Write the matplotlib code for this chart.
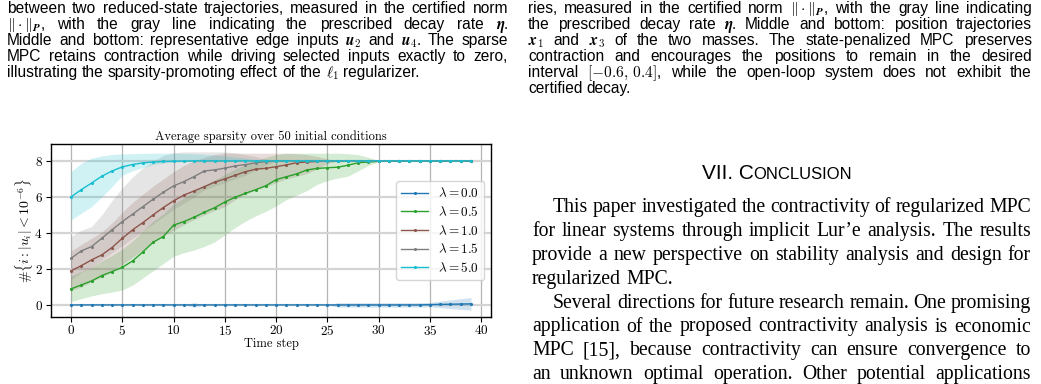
import matplotlib
matplotlib.use('Agg')
import matplotlib.pyplot as plt

plt.rcParams['mathtext.fontset'] = 'cm'
plt.rcParams['axes.formatter.use_mathtext'] = True

# time steps and the five regularization weights
steps = list(range(40))
labels = [r'$\lambda = 0.0$', r'$\lambda = 0.5$', r'$\lambda = 1.0$', r'$\lambda = 1.5$', r'$\lambda = 5.0$']
colors = ['#1f77b4', '#2ca02c', '#8c564b', '#7f7f7f', '#17becf']

# mean number of zero inputs and the shaded band (low / high) per step
lam00_mean = [0, 0, 0, 0, 0, 0, 0, 0, 0, 0, 0, 0, 0, 0, 0, 0, 0, 0, 0, 0,
              0, 0, 0, 0, 0, 0, 0, 0, 0, 0, 0, 0, 0, 0, 0, 0.02, 0.03, 0.04, 0.05, 0.06]
lam00_lo = [0, 0, 0, 0, 0, 0, 0, 0, 0, 0, 0, 0, -0.13, 0, 0, 0, 0, 0, 0, 0,
            0, 0, 0, 0, 0, 0, -0.12, -0.12, -0.12, -0.12, -0.12, -0.12, -0.12, -0.12, -0.12, -0.1, -0.15, -0.2, -0.25, -0.29]
lam00_hi = [0, 0, 0, 0, 0, 0, 0, 0, 0, 0, 0, 0, 0.13, 0, 0, 0, 0, 0, 0, 0,
            0, 0, 0, 0, 0, 0, 0.12, 0.12, 0.12, 0.12, 0.12, 0.12, 0.12, 0.12, 0.12, 0.14, 0.21, 0.28, 0.35, 0.41]

lam05_mean = [0.89, 1.11, 1.33, 1.63, 1.85, 2.09, 2.44, 2.94, 3.48, 3.80,
              4.43, 4.63, 4.87, 5.15, 5.40, 5.72, 5.98, 6.20, 6.40, 6.62,
              6.96, 7.12, 7.28, 7.50, 7.58, 7.62, 7.65, 7.76, 7.90, 7.94,
              7.98, 8, 8, 8, 8, 8, 8, 8, 8, 8]
lam05_lo = [0.19, 0.35, 0.50, 0.62, 0.72, 0.83, 1.10, 1.50, 1.90, 2.30,
            2.70, 2.90, 3.05, 3.25, 3.50, 3.90, 4.30, 4.65, 4.95, 5.20,
            5.50, 5.85, 6.10, 6.35, 6.70, 6.90, 7.05, 7.15, 7.45, 7.75,
            7.95, 8, 8, 8, 8, 8, 8, 8, 8, 8]
lam05_hi = [1.60, 1.85, 2.10, 2.45, 2.75, 3.10, 3.55, 4.10, 4.65, 5.05,
            5.60, 5.95, 6.30, 6.65, 6.95, 7.25, 7.55, 7.80, 8.00, 8.20,
            8.35, 8.42, 8.43, 8.43, 8.43, 8.43, 8.43, 8.40, 8.35, 8.20,
            8.02, 8, 8, 8, 8, 8, 8, 8, 8, 8]

lam10_mean = [1.89, 2.18, 2.50, 2.78, 3.19, 3.70, 4.17, 4.57, 5.00, 5.41,
              5.78, 6.10, 6.33, 6.57, 6.82, 7.00, 7.20, 7.40, 7.54, 7.59,
              7.68, 7.78, 7.90, 7.94, 7.97, 7.99, 8, 8, 8, 8,
              8, 8, 8, 8, 8, 8, 8, 8, 8, 8]
lam10_lo = [0.80, 1.00, 1.30, 1.55, 1.85, 2.25, 2.65, 3.05, 3.45, 3.85,
            4.15, 4.45, 4.75, 5.00, 5.25, 5.46, 5.85, 6.15, 6.40, 6.57,
            6.80, 7.00, 7.15, 7.30, 7.55, 7.85, 8, 8, 8, 8,
            8, 8, 8, 8, 8, 8, 8, 8, 8, 8]
lam10_hi = [3.00, 3.35, 3.70, 4.05, 4.55, 5.15, 5.70, 6.15, 6.60, 7.00,
            7.40, 7.75, 8.00, 8.20, 8.35, 8.43, 8.43, 8.43, 8.43, 8.43,
            8.43, 8.43, 8.40, 8.35, 8.25, 8.12, 8, 8, 8, 8,
            8, 8, 8, 8, 8, 8, 8, 8, 8, 8]

lam15_mean = [2.59, 3.00, 3.24, 3.70, 4.17, 4.63, 5.04, 5.46, 5.87, 6.26,
              6.61, 6.85, 7.13, 7.44, 7.50, 7.60, 7.72, 7.80, 7.90, 7.96,
              8, 8, 8, 8, 8, 8, 8, 8, 8, 8, 8, 8, 8, 8, 8, 8, 8, 8, 8, 8]
lam15_lo = [1.40, 1.80, 2.10, 2.50, 2.90, 3.30, 3.70, 4.10, 4.50, 4.90,
            5.30, 5.65, 6.00, 6.40, 6.60, 6.80, 7.00, 7.20, 7.50, 7.75,
            8, 8, 8, 8, 8, 8, 8, 8, 8, 8, 8, 8, 8, 8, 8, 8, 8, 8, 8, 8]
lam15_hi = [3.80, 4.15, 4.35, 5.00, 5.80, 6.50, 7.10, 7.60, 8.00, 8.30,
            8.45, 8.50, 8.50, 8.50, 8.50, 8.50, 8.45, 8.35, 8.25, 8.10,
            8, 8, 8, 8, 8, 8, 8, 8, 8, 8, 8, 8, 8, 8, 8, 8, 8, 8, 8, 8]

lam50_mean = [6.00, 6.40, 6.77, 7.15, 7.44, 7.67, 7.80, 7.89, 7.94, 7.97,
              7.98, 7.99, 8, 8, 8, 8, 8, 8, 8, 8,
              8, 8, 8, 8, 8, 8, 8, 8, 8, 8, 8, 8, 8, 8, 8, 8, 8, 8, 8, 8]
lam50_lo = [4.72, 5.10, 5.46, 6.00, 6.57, 7.20, 7.45, 7.62, 7.80, 7.88,
            7.93, 7.97, 8, 8, 8, 8, 8, 8, 8, 8,
            8, 8, 8, 8, 8, 8, 8, 8, 8, 8, 8, 8, 8, 8, 8, 8, 8, 8, 8, 8]
lam50_hi = [7.40, 7.87, 8.15, 8.28, 8.36, 8.39, 8.40, 8.42, 8.43, 8.43,
            8.43, 8.42, 8.40, 8.37, 8.33, 8.28, 8.22, 8.15, 8.08, 8.02,
            8, 8, 8, 8, 8, 8, 8, 8, 8, 8, 8, 8, 8, 8, 8, 8, 8, 8, 8, 8]

means = [lam00_mean, lam05_mean, lam10_mean, lam15_mean, lam50_mean]
lows = [lam00_lo, lam05_lo, lam10_lo, lam15_lo, lam50_lo]
highs = [lam00_hi, lam05_hi, lam10_hi, lam15_hi, lam50_hi]

W, H = 1041, 384
fig = plt.figure(figsize=(W / 100, H / 100), dpi=100)

# chart
ax = fig.add_axes([51 / W, 1 - 317 / H, 440 / W, 173 / H])
for m, lo, hi, c, lab in zip(means, lows, highs, colors, labels):
    ax.fill_between(steps, lo, hi, color=c, alpha=0.2, linewidth=0)
    ax.plot(steps, m, color=c, linewidth=1.0, marker='.', markersize=2.5, label=lab)

ax.set_xlim(-1.95, 40.95)
ax.set_ylim(-0.67, 8.94)
ax.set_xticks([0, 5, 10, 15, 20, 25, 30, 35, 40])
ax.set_yticks([0, 2, 4, 6, 8])
ax.grid(True, axis='y', color='#d4d4d4', linewidth=1.6)
ax.grid(True, axis='x', color='#b4b4b4', linewidth=0.9)
ax.set_axisbelow(True)
for s in ax.spines.values():
    s.set_linewidth(1.0)
ax.tick_params(labelsize=9.5, pad=2.5)
ax.tick_params(axis='x', pad=1.5)
for t in ax.get_xticklabels() + ax.get_yticklabels():
    t.set_family('cmr10')
ax.set_title('Average sparsity over 50 initial conditions', fontsize=9, family='cmr10', pad=3)
ax.set_xlabel('Time step', fontsize=9, family='cmr10')
ax.xaxis.set_label_coords(0.5, -0.118)
ax.set_ylabel(r'$\#\{i : |u_i| < 10^{-6}\}$', fontsize=10)
ax.yaxis.set_label_coords(-0.037, 0.5)
leg = ax.legend(loc='center right', fontsize=9.5, framealpha=0.8, edgecolor='0.8',
                labelspacing=0.35, handlelength=2.0)

# surrounding page text
rend = fig.canvas.get_renderer()


def put_line(text, x0, x1, y, size, family, justify=True):
    words = text.split(' ')
    objs = [fig.text(0, 0, w, fontsize=size, family=family, va='baseline', ha='left') for w in words]
    ws = [o.get_window_extent(renderer=rend).width for o in objs]
    if justify and len(words) > 1:
        gap = (x1 - x0 - sum(ws)) / (len(words) - 1)
    else:
        gap = size * 100 / 72 * 0.28
    x = x0
    for o, w in zip(objs, ws):
        o.set_position((x / W, 1 - y / H))
        x += w + gap


cap_left = [
    'between two reduced-state trajectories, measured in the certified norm',
    r'$\|\cdot\|_{\boldsymbol{P}}$, with the gray line indicating the prescribed decay rate $\boldsymbol{\eta}$.',
    r'Middle and bottom: representative edge inputs $\boldsymbol{u}_\mathbf{2}$ and $\boldsymbol{u}_\mathbf{4}$. The sparse',
    'MPC retains contraction while driving selected inputs exactly to zero,',
    r'illustrating the sparsity-promoting effect of the $\boldsymbol{\ell}_\mathbf{1}$ regularizer.',
]
cap_right = [
    r'ries, measured in the certified norm $\|\cdot\|_{\boldsymbol{P}}$, with the gray line indicating',
    r'the prescribed decay rate $\boldsymbol{\eta}$. Middle and bottom: position trajectories',
    r'$\boldsymbol{x}_\mathbf{1}$ and $\boldsymbol{x}_\mathbf{3}$ of the two masses. The state-penalized MPC preserves',
    'contraction and encourages the positions to remain in the desired',
    r'interval $[\mathbf{-0.6,\,0.4}]$, while the open-loop system does not exhibit the',
    'certified decay.',
]
for i, line in enumerate(cap_left):
    put_line(line, 7, 508, 13 + 16 * i, 11.2, 'Liberation Sans', justify=(i < len(cap_left) - 1))
for i, line in enumerate(cap_right):
    put_line(line, 528, 1032, 13 + 16 * i, 11.2, 'Liberation Sans', justify=(i < len(cap_right) - 1))

# section heading in small caps
h1 = fig.text(0, 0, 'VII. C', fontsize=15, family='Liberation Sans', va='baseline')
h2 = fig.text(0, 0, 'ONCLUSION', fontsize=12, family='Liberation Sans', va='baseline')
w1 = h1.get_window_extent(renderer=rend).width
w2 = h2.get_window_extent(renderer=rend).width
hx = 777 - (w1 + w2) / 2
h1.set_position((hx / W, 1 - 179 / H))
h2.set_position(((hx + w1) / W, 1 - 179 / H))

body = [
    ('This paper investigated the contractivity of regularized MPC', True, True),
    ('for linear systems through implicit Lur\u2019e analysis. The results', False, True),
    ('provide a new perspective on stability analysis and design for', False, True),
    ('regularized MPC.', False, False),
    ('Several directions for future research remain. One promising', True, True),
    ('application of the proposed contractivity analysis is economic', False, True),
    ('MPC [15], because contractivity can ensure convergence to', False, True),
    ('an unknown optimal operation. Other potential applications', False, True),
]
for i, (line, indent, just) in enumerate(body):
    x0 = 553 if indent else 532
    put_line(line, x0, 1031, 212 + 23.9 * i, 14.2, 'Liberation Serif', justify=just)

fig.savefig('out.png', dpi=100)
